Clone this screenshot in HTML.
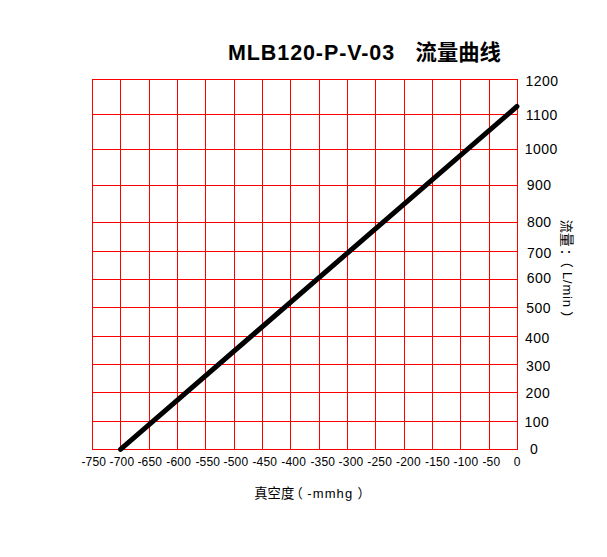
<!DOCTYPE html>
<html lang="zh">
<head>
<meta charset="utf-8">
<title>MLB120-P-V-03 流量曲线</title>
<style>
html,body{margin:0;padding:0;background:#fff;}
body{width:607px;height:557px;position:relative;overflow:hidden;font-family:"Liberation Sans",sans-serif;color:#000;}
.v{position:absolute;top:79px;width:1px;height:371px;background:#ff0000;}
.h{position:absolute;left:92px;width:426px;height:1px;background:#ff0000;}
.xl{position:absolute;top:455.1px;font-size:12px;line-height:14px;white-space:nowrap;letter-spacing:0.2px;}
.yl{position:absolute;font-size:14px;line-height:16px;white-space:nowrap;letter-spacing:0.45px;}
.title{position:absolute;left:228.0px;top:39.6px;font-size:21.5px;line-height:26px;font-weight:bold;white-space:nowrap;letter-spacing:0.9px;}
.xt{position:absolute;left:307.3px;top:485.5px;font-size:13px;line-height:15px;white-space:nowrap;letter-spacing:1.1px;}
.vt{position:absolute;left:562.6px;top:272.2px;font-size:13px;line-height:15px;white-space:nowrap;transform-origin:0 0;transform:rotate(90deg) translate(0,-12px);letter-spacing:0.8px;}
.cjk{position:absolute;color:transparent;font-size:13px;white-space:nowrap;overflow:hidden;}
svg{position:absolute;left:0;top:0;}
svg text{font-family:"Liberation Sans","Noto Sans CJK SC",sans-serif;fill:#000;}
</style>
</head>
<body>
<div class="v" style="left:92px"></div>
<div class="v" style="left:120px"></div>
<div class="v" style="left:149px"></div>
<div class="v" style="left:177px"></div>
<div class="v" style="left:205px"></div>
<div class="v" style="left:234px"></div>
<div class="v" style="left:262px"></div>
<div class="v" style="left:290px"></div>
<div class="v" style="left:319px"></div>
<div class="v" style="left:347px"></div>
<div class="v" style="left:375px"></div>
<div class="v" style="left:404px"></div>
<div class="v" style="left:432px"></div>
<div class="v" style="left:460px"></div>
<div class="v" style="left:489px"></div>
<div class="v" style="left:517px"></div>
<div class="h" style="top:79px"></div>
<div class="h" style="top:114px"></div>
<div class="h" style="top:149px"></div>
<div class="h" style="top:185px"></div>
<div class="h" style="top:222px"></div>
<div class="h" style="top:251px"></div>
<div class="h" style="top:279px"></div>
<div class="h" style="top:307px"></div>
<div class="h" style="top:336px"></div>
<div class="h" style="top:364px"></div>
<div class="h" style="top:392px"></div>
<div class="h" style="top:421px"></div>
<div class="h" style="top:449px"></div>
<svg width="607" height="557" viewBox="0 0 607 557">
<line x1="120.5" y1="449.3" x2="516.9" y2="106.5" stroke="#000" stroke-width="5.0" stroke-linecap="round"/>
<text x="415.6" y="60.4" font-size="21.3" font-weight="bold">流量曲线</text>
<text x="254.3" y="498.2" font-size="13.3">真空度</text>
<text x="289.76" y="498.2" font-size="13">（</text>
<text x="357.4" y="498.2" font-size="13">）</text>
<g transform="translate(561.6,219.8) rotate(90)">
<text x="0" y="0" font-size="13">流</text>
<text x="13" y="0" font-size="14">量</text>
<text x="29" y="0" font-size="13">：</text>
<text x="34.97" y="0" font-size="13">（</text>
<text x="91.4" y="0" font-size="13">）</text>
</g>
</svg>
<div class="title">MLB120-P-V-03</div>
<div class="cjk" style="left:416px;top:40px;width:84px;height:24px;font-size:21px;font-weight:bold">流量曲线</div>
<span class="xl" style="left:81.4px">-750</span>
<span class="xl" style="left:109.5px">-700</span>
<span class="xl" style="left:137.4px">-650</span>
<span class="xl" style="left:166.2px">-600</span>
<span class="xl" style="left:195.4px">-550</span>
<span class="xl" style="left:223.5px">-500</span>
<span class="xl" style="left:252.4px">-450</span>
<span class="xl" style="left:281.2px">-400</span>
<span class="xl" style="left:310.4px">-350</span>
<span class="xl" style="left:338.6px">-300</span>
<span class="xl" style="left:367.3px">-250</span>
<span class="xl" style="left:396.0px">-200</span>
<span class="xl" style="left:425.0px">-150</span>
<span class="xl" style="left:453.5px">-100</span>
<span class="xl" style="left:482.4px">-50</span>
<span class="xl" style="left:513.8px">0</span>
<span class="yl" style="left:525.6px;top:73.3px">1200</span>
<span class="yl" style="left:525.8px;top:107.3px">1100</span>
<span class="yl" style="left:524.8px;top:141.4px">1000</span>
<span class="yl" style="left:526.8px;top:177.3px">900</span>
<span class="yl" style="left:526.9px;top:214.0px">800</span>
<span class="yl" style="left:527.0px;top:245.0px">700</span>
<span class="yl" style="left:526.8px;top:270.0px">600</span>
<span class="yl" style="left:526.3px;top:300.3px">500</span>
<span class="yl" style="left:525.0px;top:330.1px">400</span>
<span class="yl" style="left:526.0px;top:358.0px">300</span>
<span class="yl" style="left:525.5px;top:385.1px">200</span>
<span class="yl" style="left:524.6px;top:414.2px">100</span>
<span class="yl" style="left:530.0px;top:440.8px">0</span>
<div class="cjk" style="left:255px;top:486px;width:40px;height:15px">真空度（</div>
<div class="xt">-mmhg</div>
<div class="cjk" style="left:353px;top:486px;width:13px;height:15px">）</div>
<div class="cjk" style="left:560px;top:220px;width:14px;height:52px;writing-mode:vertical-rl">流量：（</div>
<div class="vt">L/min</div>
<div class="cjk" style="left:560px;top:302px;width:14px;height:14px">）</div>
</body>
</html>
